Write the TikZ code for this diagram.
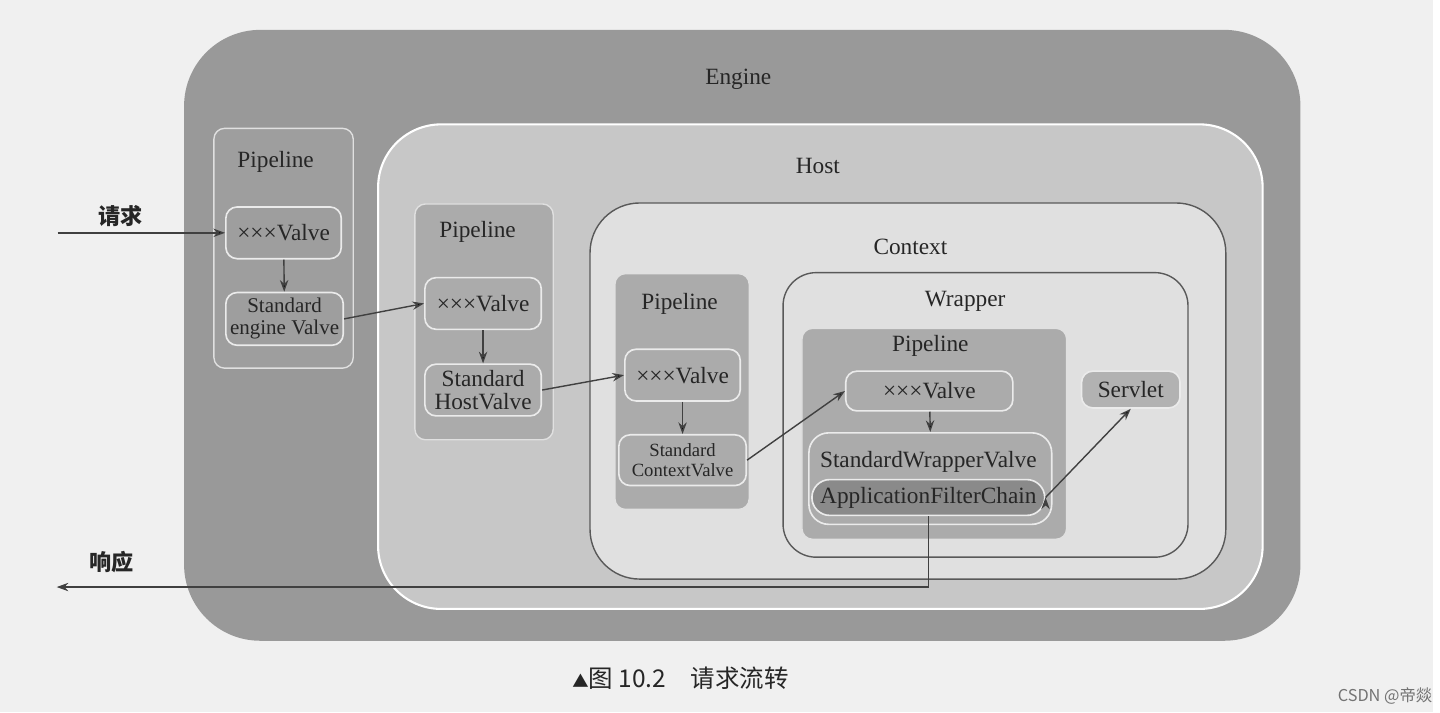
\documentclass[tikz,border=0pt]{standalone}
\usepackage{fontspec}
\setmainfont{Liberation Serif}
\newfontfamily\cjk{Noto Sans CJK SC}
\usepackage{xcolor}
\usepackage{tikz}
\usetikzlibrary{arrows.meta, fit}

\begin{document}
\begin{tikzpicture}[x=0.015cm, y=-0.015cm, >={Stealth[length=5pt, width=3.6pt]},
        every node/.style={text=black!85, font=\fontsize{10}{11}\selectfont},
        engine/.style={inner sep=0pt, fill=black!40, rounded corners=1.15cm},
        host/.style={inner sep=0pt, fill=black!22, draw=white, line width=0.9pt, rounded corners=0.95cm},
        context/.style={inner sep=0pt, fill=black!12, draw=black!65, line width=0.6pt, rounded corners=0.75cm},
        wrapper/.style={context, rounded corners=0.5cm},
        pipe/.style={inner sep=0pt, fill=black!36, draw=white!88!black, line width=0.6pt, rounded corners=0.16cm},
        valve/.style={inner sep=0pt, draw=white!92!black, line width=0.7pt, rounded corners=0.17cm},
        chain/.style={valve, fill=black!46, rounded corners=0.27cm},
        vtxt/.style={align=center, inner sep=0pt},
        flow/.style={->, draw=black!75, line width=0.6pt}]

        \fill[black!6] (0,0) rectangle (1440,716);

        % containers
        \node[engine, fit={(185,30) (1307,644)}] (engine) {};
        \node (engineLbl) at (742,80) {Engine};
        \node[host, fit={(380,125) (1269,612)}] (host) {};
        \node (hostLbl) at (822,167) {Host};
        \node[context, fit={(593,204) (1232,582)}] (context) {};
        \node (contextLbl) at (915,248) {Context};
        \node[wrapper, fit={(787,274) (1194,560)}] (wrapper) {};
        \node (wrapperLbl) at (970,303) {Wrapper};

        % engine pipeline
        \node[pipe, fill=black!38, fit={(215,129) (355,370)}] (ePipe) {};
        \node (ePipeLbl) at (277,163) {Pipeline};
        \node[valve, fit={(227,208) (343,260)}, label={[vtxt]center:×××Valve}] (ev1) {};
        \node[valve, fit={(227,294) (345,347)},
            label={[vtxt, font=\fontsize{9}{9.5}\selectfont]center:Standard\\engine Valve}] (ev2) {};

        % host pipeline
        \node[pipe, fill=black!33, fit={(417,205) (556,442)}] (hPipe) {};
        \node (hPipeLbl) at (480,233) {Pipeline};
        \node[valve, fit={(427,279) (544,331)}, label={[vtxt]center:×××Valve}] (hv1) {};
        \node[valve, fit={(427,366) (544,418)},
            label={[vtxt, font=\fontsize{10}{9.5}\selectfont]center:Standard\\HostValve}] (hv2) {};

        % context pipeline
        \node[pipe, fill=black!33, fit={(618,275) (753,512)}] (cPipe) {};
        \node (cPipeLbl) at (683,305) {Pipeline};
        \node[valve, fit={(628,351) (744,403)}, label={[vtxt]center:×××Valve}] (cv1) {};
        \node[valve, fit={(622,437) (750,488)},
            label={[vtxt, font=\fontsize{8}{8.5}\selectfont]center:Standard\\ContextValve}] (cv2) {};

        % wrapper pipeline
        \node[pipe, fill=black!33, fit={(806,330) (1072,542)}] (wPipe) {};
        \node (wPipeLbl) at (935,348) {Pipeline};
        \node[valve, fit={(850,373) (1018,413)}, label={[vtxt]center:×××Valve}] (wv1) {};
        \node[valve, rounded corners=0.3cm, fit={(813,435) (1057,527)}] (swv) {};
        \node (swvLbl) at (933,464) {StandardWrapperValve};
        \node[chain, fit={(816,482) (1050,518)}, label={[vtxt]center:ApplicationFilterChain}] (afc) {};
        \node[valve, fill=black!30, fit={(1087,373) (1186,410)}, label={[vtxt]center:Servlet}] (servlet) {};

        % request / response
        \coordinate (reqIn) at (58,234);
        \coordinate (respOut) at (57,590);
        \node[font=\cjk\bfseries\fontsize{9.5}{11}\selectfont] (reqLbl) at (121,217) {请求};
        \node[font=\cjk\bfseries\fontsize{9.5}{11}\selectfont] (respLbl) at (112,565) {响应};

        \path[flow]
        (reqIn) edge (ev1.west)
        (ev1) edge (ev2)
        (ev2.east) edge (hv1.west)
        (hv1) edge (hv2)
        (hv2.east) edge (cv1.west)
        (cv1) edge (cv2)
        (cv2.east) edge (wv1.west)
        (wv1) edge (swv.north)
        (afc.east) edge (servlet.south);
        \draw[flow] (afc.south) |- (respOut);

        \node[font=\cjk\fontsize{10.5}{12}\selectfont] (caption) at (684,682) {{\fontsize{7}{8}\selectfont ▲}图 10.2\quad 请求流转};
        \node[font=\cjk\fontsize{7}{8}\selectfont, text=black!55] (mark) at (1392,700) {CSDN @帝燚};
    \end{tikzpicture}
\end{document}
